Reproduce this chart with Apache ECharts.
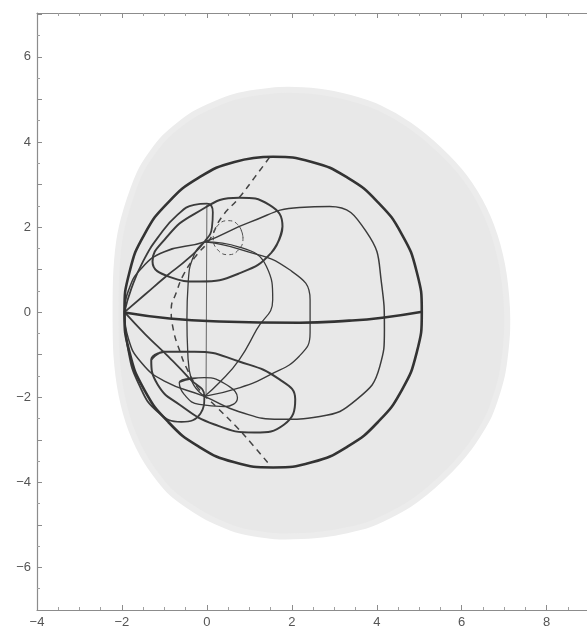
<!DOCTYPE html>
<html>
<head>
<meta charset="utf-8">
<script src="https://cdn.jsdelivr.net/npm/echarts@6/dist/echarts.min.js"></script>
<style>
  html, body { margin: 0; padding: 0; background: #fff; }
  #chart { width: 587px; height: 632px; }
</style>
</head>
<body>
<div id="chart"></div>
<script>
// labelled ticks
const xTicks = [-4, -2, 0, 2, 4, 6, 8]
const yTicks = [-6, -4, -2, 0, 2, 4, 6]

// light gray blob behind everything
const shade = [
  [1.71, 5.22], [2.65, 5.18], [3.35, 5.04], [4.06, 4.80], [4.76, 4.40], [5.47, 3.82],
  [6.06, 3.18], [6.53, 2.41], [6.84, 1.58], [7.02, 0.65], [7.07, -0.41], [6.95, -1.47],
  [6.65, -2.41], [6.18, -3.18], [5.54, -3.89], [4.76, -4.52], [3.82, -4.99], [2.76, -5.22],
  [1.71, -5.27], [0.76, -5.13], [-0.06, -4.78], [-0.84, -4.24], [-1.40, -3.53], [-1.78, -2.76],
  [-2.01, -1.94], [-2.13, -1.00], [-2.15, 0.06], [-2.13, 1.00], [-2.04, 1.82], [-1.82, 2.64],
  [-1.52, 3.39], [-1.00, 4.10], [-0.29, 4.66], [0.65, 5.06]
]

// thick outer circle
const bigCircle = [
  [1.56, 3.65], [0.65, 3.53], [-0.19, 3.16], [-0.91, 2.58], [-1.47, 1.83], [-1.82, 0.95],
  [-1.94, 0], [-1.82, -0.95], [-1.47, -1.83], [-0.91, -2.58], [-0.19, -3.16], [0.65, -3.53],
  [1.56, -3.65], [2.47, -3.53], [3.31, -3.16], [4.03, -2.58], [4.59, -1.83], [4.94, -0.95],
  [5.06, 0], [4.94, 0.95], [4.59, 1.83], [4.03, 2.58], [3.31, 3.16], [2.47, 3.53], [1.56, 3.65]
]

// thick near-horizontal arc
const midArc = [
  [-1.94, -0.01], [-0.88, -0.15], [0.29, -0.22], [2.18, -0.25], [3.35, -0.20], [4.13, -0.13], [5.07, 0.01]
]

// dashed arc
const dashArc = [
  [1.47, 3.63], [1.12, 3.16], [0.76, 2.69], [0.34, 2.22], [0.06, 1.70], [-0.29, 1.28],
  [-0.55, 0.88], [-0.72, 0.46], [-0.84, 0.06], [-0.79, -0.41], [-0.65, -0.88], [-0.46, -1.35],
  [-0.18, -1.82], [0.22, -2.22], [0.69, -2.69], [1.07, -3.11], [1.47, -3.58]
]

// small dashed loop next to the upper node
const dashLoop = [
  [0.85, 1.75], [0.75, 2.03], [0.50, 2.15], [0.25, 2.03], [0.15, 1.75], [0.25, 1.47],
  [0.50, 1.35], [0.75, 1.47], [0.85, 1.75]
]

// thin vertical line
const vLine = [[0.0, 2.52], [-0.02, -1.98]]

// upper tilted ellipse
const upperEllipse = [
  [1.78, 2.01], [1.52, 1.40], [0.76, 0.91], [-0.18, 0.72], [-0.88, 0.83], [-1.28, 1.19],
  [-1.00, 1.70], [-0.29, 2.31], [0.76, 2.69], [1.47, 2.52], [1.78, 2.01]
]

// lower tilted ellipse
const lowerEllipse = [
  [-1.31, -1.12], [-1.00, -0.93], [-0.29, -0.93], [0.76, -1.16], [1.71, -1.58], [2.08, -2.05],
  [1.82, -2.64], [1.12, -2.83], [0.18, -2.64], [-0.65, -2.17], [-1.16, -1.70], [-1.31, -1.12]
]

// small lower ellipse
const lowerSmall = [
  [-0.65, -1.65], [-0.06, -1.54], [0.53, -1.75], [0.72, -2.01], [0.41, -2.22], [-0.18, -2.17],
  [-0.53, -1.94], [-0.65, -1.65]
]

// wide loop through both nodes
const loopWide = [
  [-1.94, 0], [-1.85, 0.50], [-1.55, 1.02], [-1.00, 1.42], [-0.06, 1.65], [1.00, 2.11],
  [2.18, 2.46], [2.89, 2.48], [3.76, 1.88], [4.11, 0.69], [4.18, -0.41], [4.07, -1.28],
  [3.53, -2.05], [2.66, -2.45], [1.72, -2.52], [0.76, -2.34], [-0.06, -1.98],
  [-1.00, -1.62], [-1.55, -1.18], [-1.85, -0.62], [-1.94, 0]
]

// middle loop through both nodes
const loopMid = [
  [-0.06, 1.65], [0.76, 1.48], [1.94, 1.00], [2.43, 0.29], [2.43, -0.48], [2.18, -1.03],
  [1.47, -1.48], [0.76, -1.78], [-0.06, -1.98]
]

// inner loop through both nodes
const loopIn = [
  [-0.06, 1.65], [0.76, 1.53], [1.40, 1.08], [1.55, 0.29], [1.17, -0.41], [0.76, -1.12],
  [0.29, -1.66], [-0.06, -1.98]
]

// left arc between the nodes
const loopLeft = [
  [-0.06, 1.65], [-0.30, 1.35], [-0.44, 0.70], [-0.47, -0.17], [-0.45, -0.95],
  [-0.36, -1.60], [-0.06, -1.98]
]

// upper-left loop
const loopUL = [
  [-1.94, 0], [-1.78, 0.55], [-1.50, 1.20], [-1.12, 1.80], [-0.70, 2.28], [-0.30, 2.52],
  [0.00, 2.55], [0.14, 2.35], [0.12, 2.00], [-0.06, 1.65], [-0.45, 1.25], [-0.95, 0.85],
  [-1.45, 0.42], [-1.94, 0]
]

// lower-left loop
const loopLL = [
  [-1.94, 0], [-1.45, -0.52], [-0.90, -1.05], [-0.42, -1.55], [-0.06, -1.98],
  [-0.15, -2.38], [-0.60, -2.58], [-1.15, -2.35], [-1.60, -1.70], [-1.86, -0.85], [-1.94, 0]
]

// close a loop smoothly by running one step past its start
const closeLoop = pts => pts.concat([pts[1]])

function curve (data, width, extra) {
  return Object.assign({
    type: 'line',
    data: data,
    smooth: 0.5,
    showSymbol: false,
    silent: true,
    lineStyle: { color: '#3b3b3b', width: width },
    z: 3
  }, extra || {})
}

const chart = echarts.init(document.getElementById('chart'))
const minus = v => (v < 0 ? '\u2212' + Math.abs(v) : String(v))
const evenOnly = v => (yTicks.indexOf(v) > -1 ? minus(v) : '')
const xLabel = v => (xTicks.indexOf(v) > -1 ? minus(v) : '')

const axisCommon = {
  type: 'value',
  axisLine: { show: true, onZero: false, lineStyle: { color: '#8c8c8c', width: 1.2 } },
  axisTick: { show: true, inside: true, length: 5, lineStyle: { color: '#8c8c8c' } },
  minorTick: { show: true, length: 3, lineStyle: { color: '#a0a0a0' } },
  splitLine: { show: false },
  minorSplitLine: { show: false }
}
const labelStyle = { color: '#555', fontSize: 13, fontFamily: 'Liberation Sans', margin: 6 }

chart.setOption({
  animation: false,
  grid: { left: 37, right: 0, top: 13, bottom: 22 },
  xAxis: [
    Object.assign({}, axisCommon, {
      min: -4, max: 8.95, interval: 2, position: 'bottom',
      minorTick: Object.assign({}, axisCommon.minorTick, { splitNumber: 4 }),
      axisLabel: Object.assign({ formatter: xLabel, showMaxLabel: false }, labelStyle)
    }),
    Object.assign({}, axisCommon, {
      min: -4, max: 8.95, interval: 2, position: 'top',
      minorTick: Object.assign({}, axisCommon.minorTick, { splitNumber: 4 }),
      axisLabel: { show: false }
    })
  ],
  yAxis: [
    Object.assign({}, axisCommon, {
      min: -7, max: 7.03, interval: 1, position: 'left',
      minorTick: Object.assign({}, axisCommon.minorTick, { splitNumber: 2 }),
      axisLabel: Object.assign({ formatter: evenOnly }, labelStyle)
    })
  ],
  series: [
    {
      type: 'custom',
      silent: true,
      z: 1,
      data: [0],
      renderItem: function (params, api) {
        const pts = shade.map(p => api.coord(p))
        return {
          type: 'polygon',
          shape: { points: pts, smooth: 0.25 },
          style: { fill: '#e8e8e8', stroke: '#ececec', lineWidth: 6 }
        }
      }
    },
    curve(vLine, 1, { smooth: false, lineStyle: { color: '#666', width: 1 } }),
    curve(dashArc, 1.5, { lineStyle: { color: '#444', width: 1.5, type: [6, 5] } }),
    curve(closeLoop(dashLoop), 1, { lineStyle: { color: '#555', width: 1, type: [4, 3] } }),
    curve(closeLoop(upperEllipse), 2),
    curve(closeLoop(lowerEllipse), 2),
    curve(closeLoop(lowerSmall), 1.3),
    curve(loopWide, 1.5),
    curve(loopMid, 1.3),
    curve(loopIn, 1.3),
    curve(loopLeft, 1.3),
    curve(loopUL, 1.8),
    curve(loopLL, 1.8),
    curve(closeLoop(bigCircle), 2.6, { lineStyle: { color: '#333', width: 2.6 } }),
    curve(midArc, 2.6, { lineStyle: { color: '#333', width: 2.6 } })
  ]
})
</script>
</body>
</html>
